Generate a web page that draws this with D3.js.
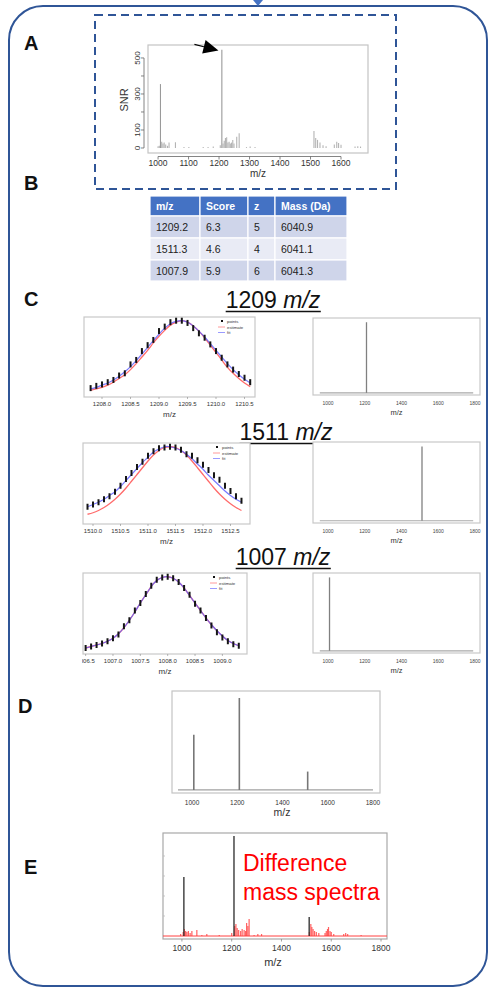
<!DOCTYPE html>
<html>
<head>
<meta charset="utf-8">
<script src="https://cdn.jsdelivr.net/npm/d3@7"></script>
<style>
  body { margin: 0; background: #fff; }
  text { font-family: "Liberation Sans", Arial, Helvetica, sans-serif; }
</style>
</head>
<body>
<svg id="fig" width="489" height="988"></svg>
<script>
// ---- data ----

// panel A: peak list (m/z, SNR)
var peaksA_mz  = [1000, 1004, 1007.9, 1012, 1016, 1020, 1025, 1031, 1036, 1057, 1085, 1101, 1148, 1164, 1181,
                  1204, 1209.2, 1213, 1217, 1221, 1225, 1229, 1233, 1237, 1241, 1245, 1249, 1258, 1266,
                  1290, 1302, 1318, 1511.3, 1517, 1523, 1531, 1541, 1551, 1578, 1586, 1592, 1600, 1646, 1655, 1664];
var peaksA_snr = [10, 12, 355, 35, 25, 30, 20, 12, 30, 32, 5, 6, 5, 5, 8,
                  15, 545, 25, 40, 55, 60, 30, 35, 25, 30, 45, 25, 63, 82,
                  5, 8, 6, 94, 55, 45, 30, 15, 10, 20, 35, 28, 18, 8, 10, 8];
var ticksA_x = [1000, 1100, 1200, 1300, 1400, 1500, 1600];
var ticksA_y = [0, 100, 200, 300, 400, 500];
var labelsA_y = [0, 100, 300, 500];

// panel B: table
var tblHead  = ["m/z", "Score", "z", "Mass (Da)"];
var tblMz    = [1209.2, 1511.3, 1007.9];
var tblScore = [6.3, 4.6, 5.9];
var tblZ     = [5, 4, 6];
var tblMass  = [6040.9, 6041.1, 6041.3];

// panel C: isotope envelope fits (normalised intensity)
var mz1209  = [1207.8, 1207.9, 1208.0, 1208.1, 1208.2, 1208.3, 1208.4, 1208.5, 1208.6, 1208.7, 1208.8, 1208.9, 1209.0, 1209.1, 1209.2,
               1209.3, 1209.4, 1209.5, 1209.6, 1209.7, 1209.8, 1209.9, 1210.0, 1210.1, 1210.2, 1210.3, 1210.4, 1210.5, 1210.6];
var pts1209 = [0.09, 0.12, 0.14, 0.17, 0.20, 0.26, 0.29, 0.41, 0.47, 0.59, 0.67, 0.74, 0.86, 0.92, 0.98,
               1.00, 1.00, 0.97, 0.90, 0.83, 0.77, 0.68, 0.59, 0.50, 0.41, 0.34, 0.28, 0.23, 0.17];
var est1209 = [0.06, 0.08, 0.10, 0.13, 0.17, 0.22, 0.27, 0.34, 0.42, 0.51, 0.60, 0.70, 0.79, 0.87, 0.94,
               0.98, 1.00, 0.98, 0.93, 0.86, 0.77, 0.67, 0.57, 0.47, 0.37, 0.29, 0.22, 0.16, 0.11];
var fit1209 = [0.08, 0.10, 0.13, 0.16, 0.20, 0.25, 0.31, 0.38, 0.46, 0.55, 0.64, 0.73, 0.82, 0.90, 0.96,
               0.99, 1.00, 0.98, 0.93, 0.86, 0.78, 0.69, 0.60, 0.51, 0.42, 0.34, 0.27, 0.21, 0.16];

var mz1511  = [1509.9, 1510.0, 1510.1, 1510.2, 1510.3, 1510.4, 1510.5, 1510.6, 1510.7, 1510.8, 1510.9, 1511.0, 1511.1, 1511.2, 1511.3,
               1511.4, 1511.5, 1511.6, 1511.7, 1511.8, 1511.9, 1512.0, 1512.1, 1512.2, 1512.3, 1512.4, 1512.5, 1512.6, 1512.7];
var pts1511 = [0.20, 0.23, 0.26, 0.30, 0.34, 0.40, 0.48, 0.57, 0.65, 0.73, 0.80, 0.88, 0.94, 0.98, 0.99,
               1.00, 0.99, 0.96, 0.90, 0.88, 0.82, 0.76, 0.69, 0.62, 0.56, 0.48, 0.41, 0.34, 0.28];
var est1511 = [0.10, 0.12, 0.15, 0.19, 0.24, 0.30, 0.37, 0.45, 0.54, 0.63, 0.72, 0.81, 0.89, 0.95, 0.99,
               1.00, 0.99, 0.95, 0.89, 0.81, 0.72, 0.63, 0.54, 0.45, 0.37, 0.30, 0.24, 0.19, 0.15];
var fit1511 = [0.20, 0.23, 0.26, 0.30, 0.35, 0.40, 0.47, 0.55, 0.63, 0.71, 0.79, 0.86, 0.93, 0.97, 1.00,
               1.00, 0.98, 0.95, 0.90, 0.84, 0.77, 0.70, 0.62, 0.55, 0.48, 0.41, 0.35, 0.30, 0.26];

var mz1007  = [1006.5, 1006.6, 1006.7, 1006.8, 1006.9, 1007.0, 1007.1, 1007.2, 1007.3, 1007.4, 1007.5, 1007.6, 1007.7, 1007.8, 1007.9,
               1008.0, 1008.1, 1008.2, 1008.3, 1008.4, 1008.5, 1008.6, 1008.7, 1008.8, 1008.9, 1009.0, 1009.1, 1009.2, 1009.3];
var pts1007 = [0.05, 0.07, 0.09, 0.11, 0.14, 0.18, 0.23, 0.34, 0.42, 0.55, 0.65, 0.77, 0.88, 0.96, 0.99,
               1.00, 0.98, 0.93, 0.85, 0.76, 0.64, 0.55, 0.45, 0.35, 0.26, 0.19, 0.14, 0.10, 0.08];
var est1007 = [0.05, 0.07, 0.09, 0.11, 0.14, 0.18, 0.24, 0.32, 0.42, 0.53, 0.65, 0.76, 0.87, 0.95, 0.99,
               1.00, 0.98, 0.93, 0.85, 0.75, 0.65, 0.55, 0.45, 0.36, 0.28, 0.21, 0.15, 0.11, 0.08];
var fit1007 = [0.05, 0.07, 0.09, 0.11, 0.14, 0.18, 0.24, 0.32, 0.42, 0.53, 0.65, 0.76, 0.87, 0.95, 0.99,
               1.00, 0.98, 0.93, 0.85, 0.75, 0.65, 0.55, 0.45, 0.36, 0.28, 0.21, 0.15, 0.11, 0.08];

var ticks1209 = [1208.0, 1208.5, 1209.0, 1209.5, 1210.0, 1210.5];
var ticks1511 = [1510.0, 1510.5, 1511.0, 1511.5, 1512.0, 1512.5];
var ticks1007 = [1006.5, 1007.0, 1007.5, 1008.0, 1008.5, 1009.0];
var ticksSpec = [1000, 1200, 1400, 1600, 1800];

// panel D: reconstructed spectrum
var peaksD_mz  = [1007.9, 1209.2, 1511.3];
var peaksD_int = [0.60, 1.00, 0.20];

// panel E: difference spectrum
var peaksE_mz  = [1007.9, 1209.2, 1511.3];
var peaksE_int = [0.59, 1.00, 0.19];
var diffE_mz  = [995, 1005, 1010, 1015, 1020, 1026, 1033, 1040, 1060, 1080, 1100, 1150, 1200, 1212, 1217, 1222, 1228, 1236,
                 1242, 1250, 1256, 1260, 1265, 1270, 1290, 1305, 1320, 1512, 1518, 1522, 1527, 1533, 1540, 1550, 1575, 1580,
                 1585, 1589, 1595, 1600, 1610, 1650, 1658, 1666, 1720];
var diffE_int = [0.02, 0.04, 0.07, 0.05, 0.04, 0.05, 0.03, 0.05, 0.06, 0.01, 0.02, 0.01, 0.03, 0.10, 0.12, 0.08, 0.06, 0.05,
                 0.07, 0.06, 0.05, 0.13, 0.10, 0.17, 0.01, 0.02, 0.02, 0.04, 0.12, 0.09, 0.07, 0.05, 0.04, 0.03, 0.03, 0.05,
                 0.07, 0.09, 0.05, 0.04, 0.02, 0.02, 0.03, 0.02, 0.01];

// ---- drawing ----
var svg = d3.select("#fig");
var blue = "#2f5597";

// outer rounded frame + small connector arrow at top
svg.append("rect")
    .attr("x", 9).attr("y", 6).attr("width", 478).attr("height", 980)
    .attr("rx", 34).attr("ry", 34)
    .attr("fill", "none").attr("stroke", blue).attr("stroke-width", 2);
svg.append("path").attr("d", "M253,0 L263,0 L258,6 Z").attr("fill", "#4472c4");

// panel letters
var letters = [["A", 24, 50], ["B", 24, 190], ["C", 24, 306], ["D", 18, 713], ["E", 24, 874]];
svg.selectAll("text.letter").data(letters).enter().append("text")
    .attr("class", "letter")
    .attr("x", function(d) { return d[1]; })
    .attr("y", function(d) { return d[2]; })
    .attr("font-size", 20).attr("font-weight", "bold").attr("fill", "#111")
    .text(function(d) { return d[0]; });

// ======== A ========
svg.append("rect").attr("x", 95).attr("y", 15).attr("width", 301).attr("height", 174)
    .attr("fill", "none").attr("stroke", blue).attr("stroke-width", 2).attr("stroke-dasharray", "8,5");

var fA = {x0: 148, x1: 368, y0: 45, y1: 153};
var xA = d3.scaleLinear().domain([967, 1688.5]).range([fA.x0, fA.x1]);
var yA = d3.scaleLinear().domain([-27.8, 572]).range([fA.y1, fA.y0]);
var gA = svg.append("g");

gA.append("rect").attr("x", fA.x0).attr("y", fA.y0).attr("width", fA.x1 - fA.x0).attr("height", fA.y1 - fA.y0)
    .attr("fill", "none").attr("stroke", "#c4c4c4").attr("stroke-width", 1.2);

gA.selectAll("line.pk").data(peaksA_mz).enter().append("line")
    .attr("x1", function(d) { return xA(d); }).attr("x2", function(d) { return xA(d); })
    .attr("y1", yA(0))
    .attr("y2", function(d, i) { return yA(peaksA_snr[i]); })
    .attr("stroke", function(d, i) { return peaksA_snr[i] > 300 ? "#9a9a9a" : "#b4b4b4"; })
    .attr("stroke-width", 1.1);

// x axis
var axY = 156.5;
gA.append("line").attr("x1", xA(1000)).attr("x2", xA(1600)).attr("y1", axY).attr("y2", axY).attr("stroke", "#666").attr("stroke-width", 0.8);
gA.selectAll("line.xt").data(ticksA_x).enter().append("line")
    .attr("x1", function(d) { return xA(d); }).attr("x2", function(d) { return xA(d); })
    .attr("y1", axY).attr("y2", axY + 3).attr("stroke", "#666").attr("stroke-width", 0.8);
gA.selectAll("text.xl").data(ticksA_x).enter().append("text")
    .attr("x", function(d) { return xA(d); }).attr("y", 165.5)
    .attr("text-anchor", "middle").attr("font-size", 8.5).attr("fill", "#333")
    .text(function(d) { return d; });
gA.append("text").attr("x", 258).attr("y", 177).attr("text-anchor", "middle").attr("font-size", 10).attr("fill", "#333").text("m/z");

// y axis
var axX = 144;
gA.append("line").attr("x1", axX).attr("x2", axX).attr("y1", yA(0)).attr("y2", yA(500)).attr("stroke", "#666").attr("stroke-width", 0.8);
gA.selectAll("line.yt").data(ticksA_y).enter().append("line")
    .attr("x1", axX - 3).attr("x2", axX)
    .attr("y1", function(d) { return yA(d); }).attr("y2", function(d) { return yA(d); })
    .attr("stroke", "#666").attr("stroke-width", 0.8);
gA.selectAll("text.yl").data(labelsA_y).enter().append("text")
    .attr("transform", function(d) { return "translate(139.5," + yA(d) + ") rotate(-90)"; })
    .attr("text-anchor", "middle").attr("font-size", 8).attr("fill", "#333")
    .text(function(d) { return d; });
gA.append("text").attr("transform", "translate(127.5,100) rotate(-90)")
    .attr("text-anchor", "middle").attr("font-size", 11).attr("fill", "#333").text("SNR");

// arrow onto the 1209 peak
var tip = [xA(1198), yA(542)];
var tail = [tip[0] - 24, tip[1] - 6];
var dx = tip[0] - tail[0], dy = tip[1] - tail[1], len = Math.sqrt(dx * dx + dy * dy);
var ux = dx / len, uy = dy / len, hl = 15, hw = 7;
var base = [tip[0] - ux * hl, tip[1] - uy * hl];
gA.append("line").attr("x1", tail[0]).attr("y1", tail[1]).attr("x2", base[0]).attr("y2", base[1])
    .attr("stroke", "#000").attr("stroke-width", 1.2);
gA.append("path")
    .attr("d", "M" + tip + " L" + [base[0] - uy * hw, base[1] + ux * hw] + " L" + [base[0] + uy * hw, base[1] - ux * hw] + " Z")
    .attr("fill", "#000");

// ======== B ========
var colX = [150, 200, 248, 275, 347];
var rowY = [196, 216, 238, 260, 281];
var rowFill = ["#4472c4", "#cfd5ea", "#e9ebf5", "#cfd5ea"];
var fmt1 = d3.format(".1f");
var tblRows = [tblHead].concat(tblMz.map(function(m, i) {
  return [fmt1(m), fmt1(tblScore[i]), String(tblZ[i]), fmt1(tblMass[i])];
}));
var gB = svg.append("g");
tblRows.forEach(function(row, r) {
  row.forEach(function(cell, c) {
    gB.append("rect").attr("x", colX[c]).attr("y", rowY[r])
        .attr("width", colX[c + 1] - colX[c]).attr("height", rowY[r + 1] - rowY[r])
        .attr("fill", rowFill[r]).attr("stroke", "#fff").attr("stroke-width", 1.2);
    gB.append("text").attr("x", colX[c] + 6).attr("y", (rowY[r] + rowY[r + 1]) / 2 + 4)
        .attr("font-size", 10.5)
        .attr("font-weight", r === 0 ? "bold" : "normal")
        .attr("fill", r === 0 ? "#fff" : "#222")
        .text(cell);
  });
});

// ======== C ========
function title(cx, by, num) {
  var t = svg.append("text").attr("x", cx).attr("y", by).attr("text-anchor", "middle")
      .attr("font-size", 23).attr("fill", "#111");
  t.append("tspan").text(num + " ");
  t.append("tspan").attr("font-style", "italic").text("m/z");
  var bb = t.node().getBBox();
  svg.append("line").attr("x1", bb.x).attr("x2", bb.x + bb.width).attr("y1", by + 3.5).attr("y2", by + 3.5)
      .attr("stroke", "#111").attr("stroke-width", 1.6);
}

function gaussPlot(f, dom, ticks, mz, pts, est, fit, clipLeft) {
  var g = svg.append("g");
  if (clipLeft) {
    var id = "clip" + Math.round(f.y0);
    svg.append("clipPath").attr("id", id).append("rect")
        .attr("x", clipLeft).attr("y", f.y0 - 5).attr("width", 300).attr("height", 120);
    g.attr("clip-path", "url(#" + id + ")");
  }
  var x = d3.scaleLinear().domain(dom).range([f.x0, f.x1]);
  var y = d3.scaleLinear().domain([-0.03, 1.05]).range([f.y1, f.y0]);
  g.append("rect").attr("x", f.x0).attr("y", f.y0).attr("width", f.x1 - f.x0).attr("height", f.y1 - f.y0)
      .attr("fill", "#fff").attr("stroke", "#c8c8c8").attr("stroke-width", 1.2);
  var line = d3.line().x(function(d, i) { return x(mz[i]); }).y(function(d) { return y(d); }).curve(d3.curveNatural);
  g.append("path").attr("d", line(est)).attr("fill", "none").attr("stroke", "#ff6b6b").attr("stroke-width", 1.3);
  g.append("path").attr("d", line(fit)).attr("fill", "none").attr("stroke", "#6060ff").attr("stroke-width", 1.2).attr("opacity", 0.85);
  g.selectAll("rect.pt").data(pts).enter().append("rect")
      .attr("x", function(d, i) { return x(mz[i]) - 1; })
      .attr("y", function(d) { return y(d) - 3; })
      .attr("width", 2).attr("height", 6).attr("fill", "#151515");
  // legend
  var lx = f.x1 - 33, ly = f.y0 + 4;
  g.append("rect").attr("x", lx - 1).attr("y", ly - 1).attr("width", 2).attr("height", 2).attr("fill", "#111");
  g.append("line").attr("x1", lx - 4).attr("x2", lx + 3).attr("y1", ly + 6).attr("y2", ly + 6).attr("stroke", "#ff9a9a").attr("stroke-width", 1);
  g.append("line").attr("x1", lx - 4).attr("x2", lx + 3).attr("y1", ly + 11.5).attr("y2", ly + 11.5).attr("stroke", "#9a9aff").attr("stroke-width", 1);
  [["points", 0], ["estimate", 6], ["fit", 11.5]].forEach(function(l) {
    g.append("text").attr("x", lx + 5).attr("y", ly + l[1] + 1.5).attr("font-size", 4.3).attr("fill", "#333").text(l[0]);
  });
  g.selectAll("line.tk").data(ticks).enter().append("line")
      .attr("x1", function(d) { return x(d); }).attr("x2", function(d) { return x(d); })
      .attr("y1", f.y1).attr("y2", f.y1 + 2).attr("stroke", "#888").attr("stroke-width", 0.6);
  g.selectAll("text.tl").data(ticks).enter().append("text")
      .attr("x", function(d) { return x(d); }).attr("y", f.y1 + 9)
      .attr("text-anchor", "middle").attr("font-size", 6).attr("fill", "#333")
      .text(function(d) { return fmt1(d); });
  g.append("text").attr("x", (f.x0 + f.x1) / 2).attr("y", f.y1 + 19.5)
      .attr("text-anchor", "middle").attr("font-size", 8).attr("fill", "#333").text("m/z");
}

function specPlot(f, peakMz) {
  var g = svg.append("g");
  var x = d3.scaleLinear().domain([918, 1827]).range([f.x0, f.x1]);
  var y = d3.scaleLinear().domain([-0.03, 1.06]).range([f.y1, f.y0]);
  g.append("rect").attr("x", f.x0).attr("y", f.y0).attr("width", f.x1 - f.x0).attr("height", f.y1 - f.y0)
      .attr("fill", "#fff").attr("stroke", "#c8c8c8").attr("stroke-width", 1.2);
  g.append("line").attr("x1", x(955)).attr("x2", x(1790)).attr("y1", y(0)).attr("y2", y(0))
      .attr("stroke", "#a8a8a8").attr("stroke-width", 1.2);
  g.append("line").attr("x1", x(peakMz)).attr("x2", x(peakMz)).attr("y1", y(0)).attr("y2", y(1))
      .attr("stroke", "#808080").attr("stroke-width", 1.3);
  g.selectAll("text.tl").data(ticksSpec).enter().append("text")
      .attr("x", function(d) { return x(d); }).attr("y", f.y1 + 9.5)
      .attr("text-anchor", "middle").attr("font-size", 5).attr("fill", "#444")
      .text(function(d) { return d; });
  g.append("text").attr("x", (f.x0 + f.x1) / 2).attr("y", f.y1 + 20)
      .attr("text-anchor", "middle").attr("font-size", 7.5).attr("fill", "#333").text("m/z");
}

title(273, 308, "1209");
gaussPlot({x0: 84, x1: 255, y0: 317, y1: 397}, [1207.684, 1210.684], ticks1209, mz1209, pts1209, est1209, fit1209);
specPlot({x0: 313, x1: 480, y0: 318, y1: 395}, tblMz[0]);

title(286, 440, "1511");
gaussPlot({x0: 83, x1: 250, y0: 443, y1: 524}, [1509.818, 1512.855], ticks1511, mz1511, pts1511, est1511, fit1511);
specPlot({x0: 313, x1: 480, y0: 442, y1: 523}, tblMz[1]);

title(283, 565, "1007");
gaussPlot({x0: 83, x1: 247, y0: 573, y1: 654}, [1006.452, 1009.45], ticks1007, mz1007, pts1007, est1007, fit1007, 82);
specPlot({x0: 313, x1: 480, y0: 573, y1: 653}, tblMz[2]);

// ======== D ========
var fD = {x0: 172, x1: 380, y0: 691, y1: 793};
var xD = d3.scaleLinear().domain([911.5, 1831]).range([fD.x0, fD.x1]);
var yD = d3.scaleLinear().domain([-0.033, 1.076]).range([fD.y1, fD.y0]);
var gD = svg.append("g");
gD.append("rect").attr("x", fD.x0).attr("y", fD.y0).attr("width", fD.x1 - fD.x0).attr("height", fD.y1 - fD.y0)
    .attr("fill", "#fff").attr("stroke", "#c4c4c4").attr("stroke-width", 1.2);
gD.append("line").attr("x1", xD(938)).attr("x2", xD(1800)).attr("y1", yD(0)).attr("y2", yD(0))
    .attr("stroke", "#a0a0a0").attr("stroke-width", 1.2);
gD.selectAll("line.pk").data(peaksD_mz).enter().append("line")
    .attr("x1", function(d) { return xD(d); }).attr("x2", function(d) { return xD(d); })
    .attr("y1", yD(0)).attr("y2", function(d, i) { return yD(peaksD_int[i]); })
    .attr("stroke", "#777").attr("stroke-width", 1.6);
gD.selectAll("text.tl").data(ticksSpec).enter().append("text")
    .attr("x", function(d) { return xD(d); }).attr("y", 804.5)
    .attr("text-anchor", "middle").attr("font-size", 6.5).attr("fill", "#333")
    .text(function(d) { return d; });
gD.append("text").attr("x", 282).attr("y", 816).attr("text-anchor", "middle").attr("font-size", 10.5).attr("fill", "#333").text("m/z");

// ======== E ========
var fE = {x0: 163, x1: 387, y0: 833, y1: 939};
var xE = d3.scaleLinear().domain([924, 1824]).range([fE.x0, fE.x1]);
var yE = d3.scaleLinear().domain([-0.03, 1.03]).range([fE.y1, fE.y0]);
var gE = svg.append("g");
gE.append("rect").attr("x", fE.x0).attr("y", fE.y0).attr("width", fE.x1 - fE.x0).attr("height", fE.y1 - fE.y0)
    .attr("fill", "#fff").attr("stroke", "#a8a8a8").attr("stroke-width", 1.2);
gE.selectAll("line.yt").data([0.2, 0.4, 0.6, 0.8]).enter().append("line")
    .attr("x1", fE.x0).attr("x2", fE.x0 + 2)
    .attr("y1", function(d) { return yE(d); }).attr("y2", function(d) { return yE(d); })
    .attr("stroke", "#bbb").attr("stroke-width", 0.8);
gE.selectAll("line.df").data(diffE_mz).enter().append("line")
    .attr("x1", function(d) { return xE(d); }).attr("x2", function(d) { return xE(d); })
    .attr("y1", yE(0)).attr("y2", function(d, i) { return yE(diffE_int[i]); })
    .attr("stroke", "#ff3b3b").attr("stroke-width", 1.2).attr("opacity", 0.8);
gE.append("line").attr("x1", fE.x0).attr("x2", fE.x1).attr("y1", yE(0)).attr("y2", yE(0))
    .attr("stroke", "#ff4040").attr("stroke-width", 1);
gE.selectAll("line.pk").data(peaksE_mz).enter().append("line")
    .attr("x1", function(d) { return xE(d); }).attr("x2", function(d) { return xE(d); })
    .attr("y1", yE(0)).attr("y2", function(d, i) { return yE(peaksE_int[i]); })
    .attr("stroke", "#2a2a2a").attr("stroke-width", 1.3);
gE.selectAll("line.xt").data(ticksSpec).enter().append("line")
    .attr("x1", function(d) { return xE(d); }).attr("x2", function(d) { return xE(d); })
    .attr("y1", fE.y1).attr("y2", fE.y1 + 2.5).attr("stroke", "#888").attr("stroke-width", 0.8);
gE.selectAll("text.tl").data(ticksSpec).enter().append("text")
    .attr("x", function(d) { return xE(d); }).attr("y", 951)
    .attr("text-anchor", "middle").attr("font-size", 8.5).attr("fill", "#333")
    .text(function(d) { return d; });
gE.append("text").attr("x", 273).attr("y", 966).attr("text-anchor", "middle").attr("font-size", 11).attr("fill", "#333").text("m/z");
gE.append("text").attr("x", 243).attr("y", 871).attr("font-size", 23).attr("fill", "#ff0000").text("Difference");
gE.append("text").attr("x", 243).attr("y", 900).attr("font-size", 23).attr("fill", "#ff0000").text("mass spectra");
</script>
</body>
</html>
